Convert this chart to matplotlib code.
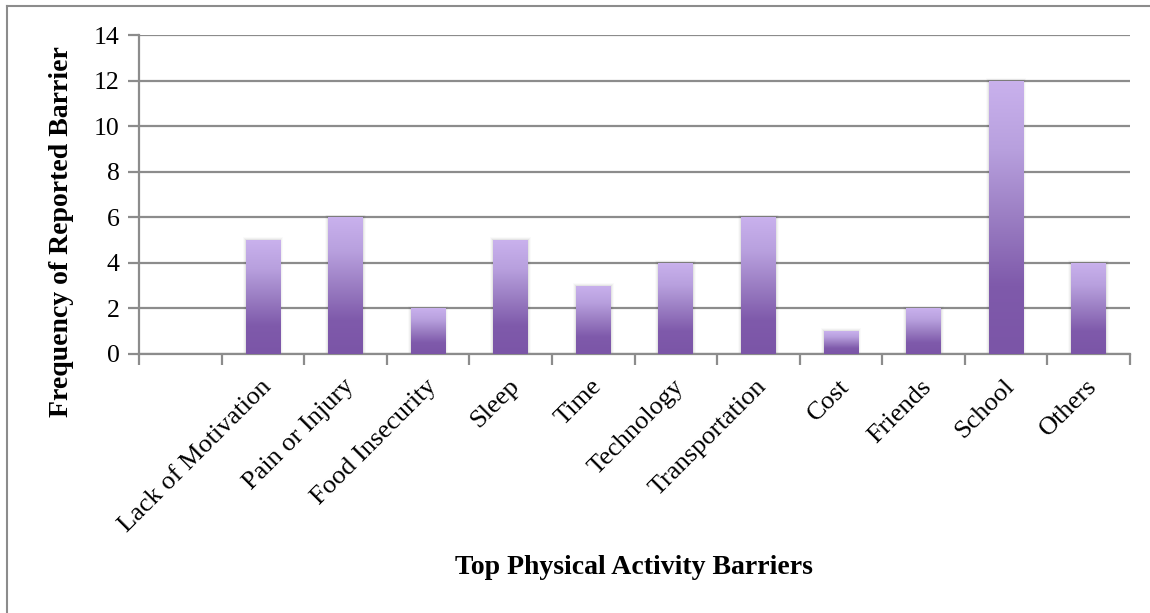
import numpy as np
import matplotlib
matplotlib.use('Agg')
import matplotlib.pyplot as plt
import matplotlib.transforms as mtransforms
from matplotlib.colors import LinearSegmentedColormap
from matplotlib.lines import Line2D

# barriers reported (first slot left blank on purpose)
categories = ['', 'Lack of Motivation', 'Pain or Injury', 'Food Insecurity', 'Sleep',
              'Time', 'Technology', 'Transportation', 'Cost', 'Friends',
              'School', 'Others']
counts = [0, 5, 6, 2, 5, 3, 4, 6, 1, 2, 12, 4]
yticks = [0, 2, 4, 6, 8, 10, 12, 14]

plt.rcParams['font.family'] = ['Liberation Serif', 'DejaVu Serif']

W, H = 1150, 613
fig = plt.figure(figsize=(W / 100, H / 100), dpi=100)
ax = fig.add_axes([139 / W, 1 - 354 / H, (1130 - 139) / W, (354 - 35) / H])

grey = '#8c8c8c'
purple = LinearSegmentedColormap.from_list(
    'purp', ['#7b55a7', '#7f5aab', '#9b7ec3', '#b8a0de', '#c9b1ed'])
grad = np.linspace(0, 1, 256).reshape(-1, 1)

x = np.arange(len(categories))
bw = 0.42
bars = ax.bar(x, counts, width=bw, color='none', edgecolor='none', zorder=3)
for b, v in zip(bars, counts):
    if v <= 0:
        continue
    x0 = b.get_x()
    # soft drop shadow
    for k, a in enumerate([0.05, 0.035, 0.02]):
        d = 0.012 * (k + 1)
        ax.add_patch(plt.Rectangle((x0 - d, 0), bw + 2 * d, v + 0.04 * (k + 1),
                                   color='black', alpha=a, lw=0, zorder=2))
    im = ax.imshow(grad, cmap=purple, aspect='auto', origin='lower',
                   extent=(x0, x0 + bw, 0, v), zorder=3)
    im.set_clip_path(b)

ax.set_xlim(-0.5, len(categories) - 0.5)
ax.set_ylim(0, 14)
ax.set_yticks(yticks)
ax.set_yticklabels([str(t) for t in yticks], fontsize=18.5)
ax.yaxis.grid(True, color=grey, lw=1.6, zorder=1)
ax.set_axisbelow(True)

ax.set_xticks(x)
ax.set_xticklabels(categories, rotation=45, ha='right', va='center',
                   rotation_mode='anchor', fontsize=19)
ax.tick_params(axis='x', which='major', length=0, pad=21)
shift = mtransforms.ScaledTranslation(5 / 100, 0, fig.dpi_scale_trans)
for lbl in ax.get_xticklabels():
    lbl.set_transform(lbl.get_transform() + shift)
ax.set_xticks(np.arange(-0.5, len(categories)), minor=True)
ax.tick_params(axis='x', which='minor', length=8, width=1.6, color=grey)
ax.tick_params(axis='y', length=8, width=1.6, color=grey, pad=6)

for s in ['top', 'right']:
    ax.spines[s].set_visible(False)
for s in ['left', 'bottom']:
    ax.spines[s].set_color(grey)
    ax.spines[s].set_linewidth(1.6)

ax.set_ylabel('Frequency of Reported Barrier', fontsize=20, fontweight='bold',
              va='center')
ax.yaxis.set_label_coords((62 - 139) / 991, (354 - 232) / 319)
fig.text(634 / W, 1 - 568 / H, 'Top Physical Activity Barriers', fontsize=20,
         fontweight='bold', ha='center', va='center')

# outer chart frame
fig.add_artist(Line2D([7 / W, 7 / W], [0, 1 - 6 / H], color=grey, lw=1.5,
                      transform=fig.transFigure))
fig.add_artist(Line2D([7 / W, 1], [1 - 6 / H, 1 - 6 / H], color=grey, lw=1.5,
                      transform=fig.transFigure))

fig.savefig('out.png', dpi=100)
